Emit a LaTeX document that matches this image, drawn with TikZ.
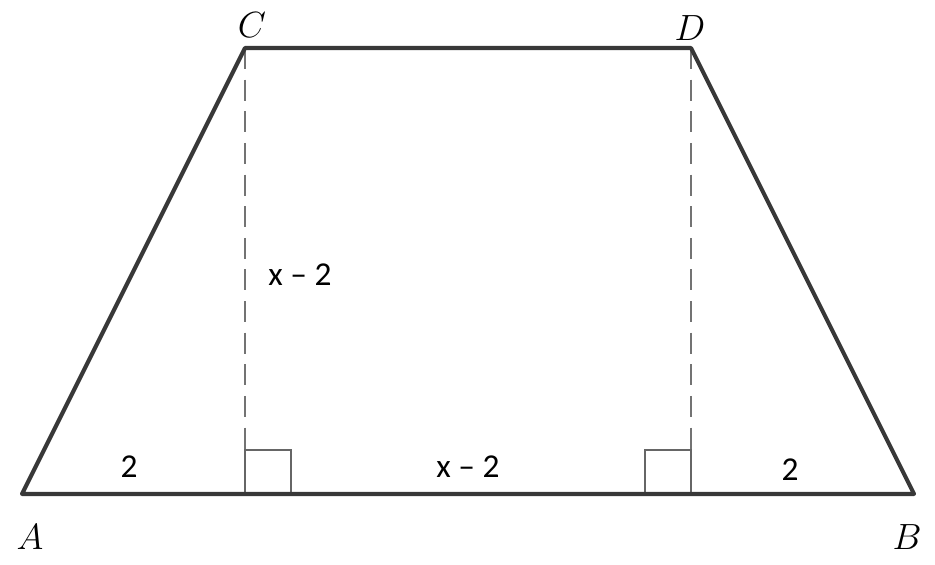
\documentclass[tikz,border=0pt]{standalone}
\usepackage{fontspec}
\newfontfamily\labelfont{Carlito}
\usepackage{tikz}

\begin{document}
\begin{tikzpicture}[
			side/.style={line width=2.3pt, draw=black!78, line join=round},
			height/.style={dashed, line width=0.9pt, draw=black!55, dash pattern=on 12pt off 6pt},
			rightangle/.style={line width=1.2pt, draw=black!60},
			vertex/.style={font=\fontsize{20}{24}\selectfont, inner sep=0pt},
			measure/.style={font=\labelfont\fontsize{19}{23}\selectfont, inner sep=0pt}
			]
			\useasboundingbox (0,0) rectangle (18.7,11.3);
			
			% Points
			\coordinate (A) at (0.44,1.42);
			\coordinate (B) at (18.28,1.42);
			\coordinate (C) at (4.9,10.34);
			\coordinate (D) at (13.82,10.34);
			\coordinate (E) at (4.9,1.42);
			\coordinate (F) at (13.82,1.42);
			
			% Labels
			\node (labA) [vertex] at (0.6,0.56) {$A$};
			\node (labB) [vertex] at (18.14,0.56) {$B$};
			\node (labC) [vertex] at (5.04,10.8) {$C$};
			\node (labD) [vertex] at (13.8,10.74) {$D$};
			\node (hgt) [measure] at (6.0,5.8) {x – 2};
			\node (mid) [measure] at (9.36,1.96) {x – 2};
			\node (left) [measure] at (2.58,1.96) {2};
			\node (right) [measure] at (15.8,1.9) {2};
			
			% Heights and right angles
			\draw [height] (C) -- (E);
			\draw [height] (D) -- (F);
			\draw [rightangle] (E) rectangle ++(0.92,0.88);
			\draw [rightangle] (F) rectangle ++(-0.92,0.88);
			
			% Sides
			\draw [side] (A) -- (B) -- (D) -- (C) -- cycle;
			
		\end{tikzpicture}
\end{document}
